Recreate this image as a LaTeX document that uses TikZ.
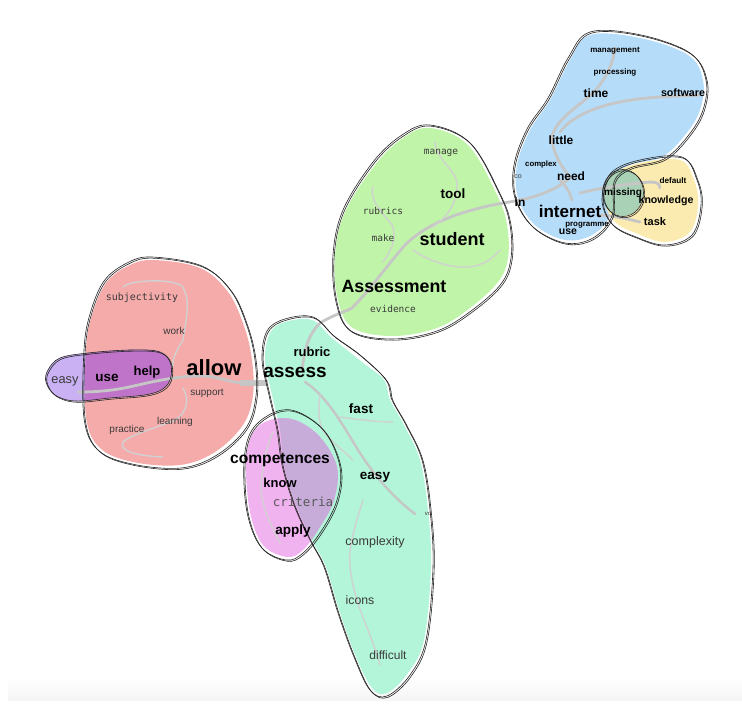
\documentclass[tikz,border=0pt]{standalone}
\usepackage{fontspec}
\setmainfont{Liberation Sans}
\newfontfamily\monof{DejaVu Sans Mono}
\definecolor{cblue}{HTML}{B5DCF8}
\definecolor{cyel}{HTML}{FBEBB0}
\definecolor{cmiss}{HTML}{A9D1B6}
\definecolor{cgreen}{HTML}{C0F4A8}
\definecolor{cred}{HTML}{F5ABAA}
\definecolor{clav}{HTML}{C9B1F3}
\definecolor{cdpur}{HTML}{BF74C9}
\definecolor{cteal}{HTML}{B2F5D9}
\definecolor{cpink}{HTML}{F1B3F0}
\definecolor{cover}{HTML}{C7ACDA}
\definecolor{cline}{HTML}{C6C6C6}
\definecolor{ctxt}{HTML}{3A3A3A}
\tikzset{
  blob/.style={smooth cycle, tension=0.6},
  sk/.style={draw=black!85, line width=0.6pt},
  gl/.style={draw=cline, line width=2.8pt, line cap=round, line join=round},
  gthin/.style={draw=cline!80, line width=1.4pt, line cap=round},
  bw/.style={font=\fontsize{#1}{#1}\selectfont\bfseries, text=black, inner sep=0pt},
  rw/.style={font=\fontsize{#1}{#1}\selectfont, text=ctxt, inner sep=0pt},
  mw/.style={font=\monof\fontsize{#1}{#1}\selectfont, text=ctxt, inner sep=0pt}
}
\begin{document}
\begin{tikzpicture}[x=1pt,y=-1pt]
\useasboundingbox (0,0) rectangle (742,712);
\shade[top color=white, bottom color=black!4] (8,677) rectangle (742,700);

% ---------- fills ----------
\def\redpts{(153,260) (200,268) (228,292) (244,326) (252,360) (253,395) (243,425) (215,452) (180,465) (133,462) (100,448) (86,417) (86,350) (92,315) (106,283) (128,266)}
\def\lavpts{(48,370) (60,358) (88,353) (130,350) (160,352) (171,365) (168,384) (150,394) (110,398) (75,401) (55,395) (46,382)}
\def\greenpts{(430,128) (468,145) (497,195) (507,225) (508,258) (498,282) (470,308) (437,328) (393,336) (353,328) (338,300) (335,255) (345,212) (375,165) (403,138)}
\def\tealpts{(285,322) (312,320) (332,338) (362,362) (384,380) (390,400) (404,425) (420,460) (428,510) (431,567) (424,640) (408,673) (387,693) (372,688) (356,657) (340,613) (326,567) (312,540) (296,505) (284,465) (280,430) (272,395) (265,360) (270,333)}
\def\pinkpts{(270,420) (295,420) (320,437) (337,467) (334,500) (320,527) (303,550) (287,557) (263,545) (250,512) (246,462) (253,433)}
\def\bluepts{(590,35) (640,38) (688,55) (703,80) (700,110) (685,135) (662,157) (630,165) (612,180) (610,215) (592,235) (565,240) (535,225) (518,198) (517,165) (530,130) (550,100) (570,60)}
\def\yelpts{(613,175) (640,163) (680,160) (694,180) (698,205) (690,232) (665,242) (638,234) (615,222) (605,200)}

\fill[cred] plot[blob] coordinates {\redpts};
\fill[clav] plot[blob] coordinates {\lavpts};
\begin{scope}
  \clip plot[blob] coordinates {\redpts};
  \fill[cdpur] plot[blob] coordinates {\lavpts};
\end{scope}
\fill[cgreen] plot[blob] coordinates {\greenpts};
\fill[cteal] plot[blob] coordinates {\tealpts};
\fill[cpink] plot[blob] coordinates {\pinkpts};
\begin{scope}
  \clip plot[blob] coordinates {\tealpts};
  \fill[cover] plot[blob] coordinates {\pinkpts};
\end{scope}
\fill[cblue] plot[blob] coordinates {\bluepts};
\fill[cyel] plot[blob] coordinates {\yelpts};
\fill[cmiss] (623,193) ellipse [x radius=20, y radius=23];

% ---------- grey lines ----------
% main spine
\draw[gl] (78,392) .. controls (110,392) and (125,388) .. (147,383)
  .. controls (170,378) and (195,374) .. (213,377) .. controls (228,380) and (235,383) .. (242,383);
\draw[draw=cline, line width=6pt] (240,383) -- (268,383);
\draw[gl] (302,372) .. controls (304,350) and (308,335) .. (320,323)
  .. controls (335,314) and (345,312) .. (352,308)
  .. controls (370,290) and (385,268) .. (405,245)
  .. controls (425,225) and (455,214) .. (480,208)
  .. controls (495,204) and (505,203) .. (520,200);
\draw[gl] (520,200) .. controls (540,196) and (560,188) .. (570,177)
  .. controls (562,168) and (552,152) .. (552,137)
  .. controls (555,120) and (580,105) .. (593,93)
  .. controls (605,80) and (613,65) .. (615,48);
\draw[gl] (560,132) .. controls (575,112) and (610,100) .. (660,97) -- (700,95);
\draw[gl] (560,180) .. controls (566,186) and (570,193) .. (572,200);
\draw[gl] (580,193) .. controls (600,188) and (620,185) .. (640,183) .. controls (655,181) and (660,182) .. (660,188);
\draw[gl] (600,215) .. controls (615,216) and (628,219) .. (640,222);
% red minor
\draw[gthin] (123,287) .. controls (130,280) and (170,278) .. (182,286)
  .. controls (192,300) and (185,325) .. (183,340)
  .. controls (176,352) and (172,358) .. (173,367);
\draw[gthin] (183,388) .. controls (190,400) and (186,412) .. (178,418)
  .. controls (160,428) and (135,432) .. (123,442)
  .. controls (118,452) and (140,456) .. (163,457);
% green minor
\draw[gthin] (435,142) .. controls (437,160) and (455,170) .. (457,182)
  .. controls (458,200) and (450,215) .. (433,227);
\draw[gthin] (373,187) .. controls (368,200) and (385,215) .. (392,225)
  .. controls (398,240) and (390,252) .. (383,262);
\draw[gthin] (413,250) .. controls (430,262) and (455,270) .. (475,266)
  .. controls (490,262) and (495,255) .. (500,250);
% teal minor
\draw[gl, line width=2.4pt] (305,382) .. controls (325,395) and (340,420) .. (355,445)
  .. controls (370,470) and (390,495) .. (415,514);
\draw[gthin] (320,395) .. controls (318,410) and (318,425) .. (325,433)
  .. controls (335,445) and (345,452) .. (353,460);
\draw[gthin] (340,417) .. controls (360,420) and (380,422) .. (393,422);
\draw[gthin] (363,500) .. controls (357,520) and (348,545) .. (350,565)
  .. controls (352,590) and (360,610) .. (368,630)
  .. controls (374,645) and (378,658) .. (380,665);
\draw[gthin] (273,432) .. controls (265,450) and (262,470) .. (261,490)
  .. controls (262,505) and (268,520) .. (280,543);

% ---------- sketchy outlines ----------
\foreach \sh in {0, 1.2}{
  \begin{scope}[xshift=\sh pt, yshift=-\sh pt]
  \draw[sk] plot[blob] coordinates {(152,257) (202,266) (231,291) (247,326) (255,360) (256,396) (246,428) (217,455) (181,468) (132,464) (98,450) (84,418) (84,350) (90,314) (104,281) (127,263)};
  \draw[sk] plot[blob] coordinates {\lavpts};
  \draw[sk] plot[blob] coordinates {(430,125) (470,143) (500,195) (510,225) (511,258) (501,284) (471,311) (437,331) (392,339) (351,331) (336,302) (333,255) (343,210) (373,162) (402,135)};
  \draw[sk] plot[blob] coordinates {(285,319) (313,317) (334,336) (360,355) (386,380) (392,400) (406,425) (422,460) (430,510) (433,567) (426,640) (410,675) (387,696) (370,690) (354,657) (338,613) (324,567) (310,540) (294,505) (282,465) (277,430) (269,395) (262,360) (267,331)};
  \draw[sk] plot[blob] coordinates {(275,412) (298,412) (325,432) (340,467) (337,500) (322,530) (303,553) (286,560) (261,547) (247,512) (244,462) (252,430)};
  \draw[sk] plot[blob] coordinates {(590,32) (641,35) (690,53) (706,80) (703,110) (688,136) (664,159) (630,168) (614,182) (612,216) (593,238) (565,243) (533,227) (515,198) (514,165) (527,129) (548,98) (568,58)};
  \draw[sk] plot[blob] coordinates {(611,173) (640,160) (682,157) (697,180) (701,205) (692,235) (665,245) (636,237) (612,224) (602,200)};
  \draw[sk] (623,193) ellipse [x radius=20.5, y radius=23.5];
  \end{scope}
}

% ---------- text ----------
% blue cluster
\node[bw=8]   (management) at (615,51) {management};
\node[bw=8]   (processing) at (615,72) {processing};
\node[bw=12]  (time)       at (596,93) {time};
\node[bw=10.7](software)   at (683,93) {software};
\node[bw=12]  (little)     at (561,140) {little};
\node[bw=7.8] (complex)    at (541,164) {complex};
\node[rw=7]   (co)         at (518,177) {co};
\node[bw=12]  (need)       at (571,176) {need};
\node[bw=12]  (in)         at (520,202) {in};
\node[bw=17]  (internet)   at (570,211) {internet};
\node[bw=7.9] (programme)  at (587,225) {programme};
\node[bw=10.5](use2)       at (568,232) {use};
\node[bw=10]  (missing)    at (623,193) {missing};
\node[bw=8.2] (default)    at (673,181) {default};
\node[bw=10.6](knowledge)  at (666,201) {knowledge};
\node[bw=11]  (task)       at (655,222) {task};
% green cluster
\node[mw=9.5] (manage)     at (441,153) {manage};
\node[bw=13.5](tool)       at (453,194) {tool};
\node[mw=9.5] (rubrics)    at (383,211) {rubrics};
\node[mw=9.5] (make)       at (383,238) {make};
\node[bw=18]  (student)    at (452,239) {student};
\node[bw=17.8](assessment) at (394,286) {Assessment};
\node[mw=9.5] (evidence)   at (393,309) {evidence};
% red cluster
\node[mw=10]  (subjectivity) at (142,298) {subjectivity};
\node[rw=10]  (work)       at (174,331) {work};
\node[bw=22]  (allow)      at (214,368) {allow};
\node[bw=13]  (help)       at (147,372) {help};
\node[bw=13.5](use)        at (107,378) {use};
\node[rw=12.8](easy1)      at (65,381) {easy};
\node[rw=10]  (support)    at (207,393) {support};
\node[rw=10]  (learning)   at (175,422) {learning};
\node[rw=10]  (practice)   at (127,430) {practice};
% teal cluster
\node[bw=13]  (rubric)     at (312,352) {rubric};
\node[bw=19]  (assess)     at (295,372) {assess};
\node[bw=13.5](fast)       at (361,409) {fast};
\node[bw=15.6](competences) at (280,460) {competences};
\node[bw=13]  (know)       at (280,483) {know};
\node[mw=12.5,text=black!65](criteria) at (303,502) {criteria};
\node[bw=13.5](easy2)      at (375,477) {easy};
\node[rw=6]   (vo)         at (428,514) {vo};
\node[bw=13.5](apply)      at (293,531) {apply};
\node[rw=12.5](complexity) at (375,542) {complexity};
\node[rw=12.3](icons)      at (360,600) {icons};
\node[rw=12]  (difficult)  at (388,655) {difficult};
\end{tikzpicture}
\end{document}
